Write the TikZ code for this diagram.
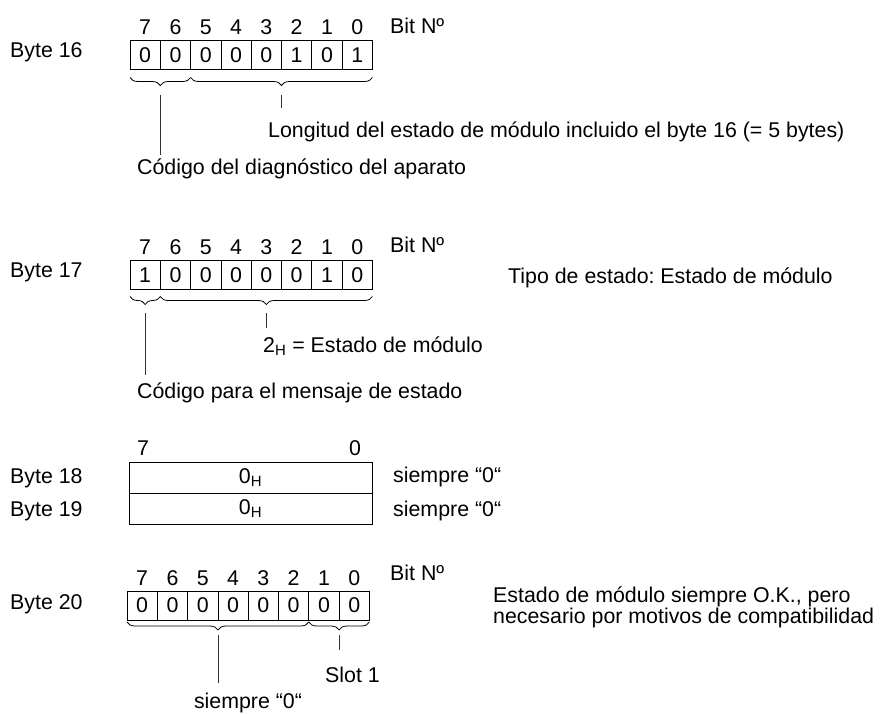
\documentclass[tikz,border=0pt]{standalone}
\usepackage{fontspec}
\setmainfont{Liberation Sans}
\usetikzlibrary{positioning, calc, decorations.pathreplacing}
\frenchspacing

\begin{document}
\begin{tikzpicture}[x=1pt, y=-1pt,
    font=\fontsize{21.35}{21}\selectfont,
    bitcell/.style={draw, line width=0.8pt, minimum width=30.3pt, minimum height=29pt, inner sep=0pt, outer sep=0pt},
    bitnum/.style={inner sep=0pt, anchor=base},
    lbl/.style={inner sep=0pt, text height=15pt, text depth=4pt, anchor=base west},
    brc/.style={decorate, decoration={brace, amplitude=8pt, mirror}, line width=0.8pt},
    lnk/.style={line width=0.7pt, black!80},
]
    \useasboundingbox (0,0) rectangle (888,713);

    % Byte 16
    \node[lbl] (b16) at (10,57) {Byte 16};
    \foreach \v [count=\i from 0] in {0,0,0,0,0,1,0,1} {
        \pgfmathtruncatemacro\n{7-\i}
        \node[bitcell] (r16c\n) at (145.15+30.3*\i, 55) {\v};
        \node[bitnum, above=6pt of r16c\n.north, anchor=base] (r16n\n) {\n};
    }
    \node[lbl] (bit16) at (390,33) {Bit Nº};
    \draw[brc] ([yshift=-8pt]r16c7.south west) -- ([yshift=-8pt]r16c6.south east);
    \draw[brc] ([yshift=-8pt]r16c5.south west) -- ([yshift=-8pt]r16c0.south east);
    \coordinate (t16a) at ($(r16c7.south west)!0.5!(r16c6.south east)+(0,16)$);
    \coordinate (t16b) at ($(r16c5.south west)!0.5!(r16c0.south east)+(0,16)$);
    \node[lbl] (d16b) at (268,137) {Longitud del estado de módulo incluido el byte 16 (= 5 bytes)};
    \node[lbl] (d16a) at (137,174) {Código del diagnóstico del aparato};
    \draw[lnk, shorten <=9pt, shorten >=4pt] (t16a) -- (t16a |- d16a.north);
    \draw[lnk, shorten <=9pt, shorten >=14pt] (t16b) -- (t16b |- d16b.north);

    % Byte 17
    \node[lbl] (b17) at (10,277) {Byte 17};
    \foreach \v [count=\i from 0] in {1,0,0,0,0,0,1,0} {
        \pgfmathtruncatemacro\n{7-\i}
        \node[bitcell] (r17c\n) at (145.15+30.3*\i, 275) {\v};
        \node[bitnum, above=6pt of r17c\n.north, anchor=base] (r17n\n) {\n};
    }
    \node[lbl] (bit17) at (390,252) {Bit Nº};
    \node[lbl] (d17t) at (508,283) {Tipo de estado: Estado de módulo};
    \draw[brc] ([yshift=-7pt]r17c7.south west) -- ([yshift=-7pt]r17c7.south east);
    \draw[brc] ([yshift=-7pt]r17c6.south west) -- ([yshift=-7pt]r17c0.south east);
    \coordinate (t17a) at ($(r17c7.south west)!0.5!(r17c7.south east)+(0,15)$);
    \coordinate (t17b) at ($(r17c6.south west)!0.5!(r17c0.south east)+(0,15)$);
    \node[lbl] (d17b) at (263,352) {2\textsubscript{H} = Estado de módulo};
    \node[lbl] (d17a) at (137,398) {Código para el mensaje de estado};
    \draw[lnk, shorten <=8pt, shorten >=8pt] (t17a) -- (t17a |- d17a.north);
    \draw[lnk, shorten <=8pt, shorten >=9pt] (t17b) -- (t17b |- d17b.north);

    % Byte 18 / 19
    \node[bitcell, minimum width=243pt, minimum height=31pt] (r18) at (250.5,477.5) {0\textsubscript{H}};
    \node[bitcell, minimum width=243pt, minimum height=31pt, below=0pt of r18] (r19) {0\textsubscript{H}};
    \node[bitnum] (r18n7) at (143,455) {7};
    \node[bitnum] (r18n0) at (355,455) {0};
    \node[lbl] (b18) at (10,483) {Byte 18};
    \node[lbl] (b19) at (10,516) {Byte 19};
    \node[lbl] (d18) at (393,482) {siempre “0“};
    \node[lbl] (d19) at (393,516) {siempre “0“};

    % Byte 20
    \node[lbl] (b20) at (10,609) {Byte 20};
    \foreach \v [count=\i from 0] in {0,0,0,0,0,0,0,0} {
        \pgfmathtruncatemacro\n{7-\i}
        \node[bitcell] (r20c\n) at (142.15+30.3*\i, 605.5) {\v};
        \node[bitnum, above=6pt of r20c\n.north, anchor=base] (r20n\n) {\n};
    }
    \node[lbl] (bit20) at (390,580) {Bit Nº};
    \node[inner sep=0pt, align=left, anchor=west] (d20t) at (493,607) {Estado de módulo siempre O.K., pero\\necesario por motivos de compatibilidad};
    \draw[brc] ([yshift=-2pt]r20c7.south west) -- ([yshift=-2pt]r20c2.south east);
    \draw[brc] ([yshift=-2pt]r20c1.south west) -- ([yshift=-2pt]r20c0.south east);
    \coordinate (t20a) at ($(r20c7.south west)!0.5!(r20c2.south east)+(0,10)$);
    \coordinate (t20b) at ($(r20c1.south west)!0.5!(r20c0.south east)+(0,10)$);
    \node[lbl] (d20b) at (325,682) {Slot 1};
    \node[lbl, anchor=base] (d20a) at (248,708) {siempre “0“};
    \draw[lnk, shorten <=5pt, shorten >=10pt] (t20a) -- (t20a |- d20a.north);
    \draw[lnk, shorten <=5pt, shorten >=17pt] (t20b) -- (t20b |- d20b.north);
\end{tikzpicture}
\end{document}
